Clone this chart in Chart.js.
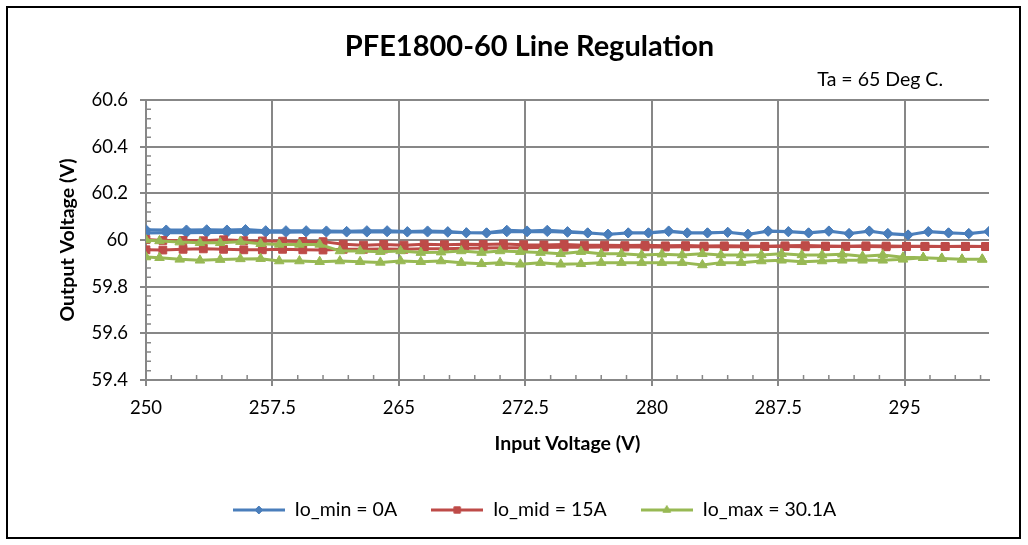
<!DOCTYPE html>
<html>
<head>
<meta charset="utf-8">
<title>PFE1800-60 Line Regulation</title>
<script src="https://cdn.jsdelivr.net/npm/chart.js@4.4.1/dist/chart.umd.min.js"></script>
<style>
  html, body { margin: 0; padding: 0; background: #fff; }
  #wrap { position: relative; width: 1028px; height: 545px; }
  #lineChart { position: absolute; left: 0; top: 0; }
  #frame { position: absolute; left: 6px; top: 6px; width: 1011px; height: 529px; border: 2px solid #000; pointer-events: none; }
</style>
</head>
<body>
<div id="wrap">
  <canvas id="lineChart" width="1028" height="545"></canvas>
  <div id="frame"></div>
</div>
<script>
const vinMin = [250.0, 251.2, 252.4, 253.6, 254.8, 255.9, 257.1, 258.3, 259.5, 260.7, 261.9, 263.1, 264.3, 265.5, 266.7,
  267.9, 269.0, 270.2, 271.4, 272.6, 273.8, 275.0, 276.2, 277.4, 278.6, 279.8, 281.0, 282.1, 283.3, 284.5,
  285.7, 286.9, 288.1, 289.3, 290.5, 291.7, 292.9, 294.0, 295.2, 296.4, 297.6, 298.8, 300.0];
const vinMid = [250.0, 251.0, 252.2, 253.4, 254.6, 255.8, 256.9, 258.1, 259.3, 260.5, 261.7, 262.9, 264.1, 265.3, 266.5,
  267.7, 268.9, 270.0, 271.2, 272.4, 273.6, 274.8, 276.0, 277.2, 278.4, 279.6, 280.8, 282.0, 283.1, 284.3,
  285.5, 286.7, 287.9, 289.1, 290.3, 291.5, 292.7, 293.9, 295.1, 296.2, 297.4, 298.6, 299.8];
const vinMax = [250.0, 250.8, 252.0, 253.2, 254.4, 255.6, 256.8, 257.9, 259.1, 260.3, 261.5, 262.7, 263.9, 265.1, 266.3,
  267.5, 268.7, 269.9, 271.0, 272.2, 273.4, 274.6, 275.8, 277.0, 278.2, 279.4, 280.6, 281.8, 283.0, 284.1,
  285.3, 286.5, 287.7, 288.9, 290.1, 291.3, 292.5, 293.7, 294.9, 296.1, 297.2, 298.4, 299.6];

// output voltage, sweep up and sweep back down (same index as vin arrays)
const ioMinUp = [60.044, 60.043, 60.043, 60.044, 60.043, 60.045, 60.040, 60.040, 60.040, 60.039, 60.037, 60.040, 60.040, 60.036, 60.039,
  60.036, 60.031, 60.031, 60.042, 60.039, 60.042, 60.036, 60.031, 60.024, 60.031, 60.031, 60.039, 60.031, 60.031, 60.033,
  60.024, 60.039, 60.036, 60.031, 60.039, 60.027, 60.039, 60.027, 60.021, 60.036, 60.031, 60.027, 60.036];
const ioMinDown = [60.030, 60.031, 60.031, 60.032, 60.032, 60.033, 60.033, 60.033, 60.034, 60.034, 60.034, 60.034, 60.035, 60.034, 60.034,
  60.033, 60.031, 60.030, 60.035, 60.035, 60.036, 60.033, 60.030, 60.025, 60.030, 60.030, 60.036, 60.030, 60.030, 60.033,
  60.025, 60.037, 60.035, 60.030, 60.037, 60.028, 60.037, 60.028, 60.022, 60.035, 60.030, 60.028, 60.036];

const ioMidUp = [60.002, 59.998, 59.998, 59.997, 60.001, 59.997, 59.996, 59.995, 59.994, 59.993, 59.982, 59.978, 59.981, 59.978, 59.982,
  59.980, 59.982, 59.981, 59.983, 59.980, 59.979, 59.981, 59.978, 59.978, 59.976, 59.977, 59.975, 59.976, 59.974, 59.975,
  59.974, 59.973, 59.975, 59.976, 59.974, 59.973, 59.975, 59.974, 59.973, 59.973, 59.972, 59.973, 59.972];
const ioMidDown = [59.958, 59.957, 59.960, 59.962, 59.960, 59.958, 59.958, 59.960, 59.958, 59.957, 59.960, 59.960, 59.961, 59.960, 59.962,
  59.963, 59.965, 59.966, 59.967, 59.967, 59.968, 59.969, 59.969, 59.970, 59.970, 59.971, 59.970, 59.971, 59.971, 59.972,
  59.971, 59.972, 59.972, 59.971, 59.972, 59.973, 59.972, 59.971, 59.972, 59.972, 59.972, 59.972, 59.972];

const ioMaxUp = [60.000, 59.996, 59.991, 59.988, 59.988, 59.993, 59.984, 59.981, 59.981, 59.981, 59.953, 59.953, 59.950, 59.953, 59.946,
  59.948, 59.953, 59.946, 59.953, 59.950, 59.946, 59.941, 59.950, 59.941, 59.941, 59.936, 59.939, 59.936, 59.941, 59.936,
  59.936, 59.936, 59.941, 59.936, 59.936, 59.939, 59.930, 59.936, 59.926, 59.924, 59.921, 59.917, 59.917];
const ioMaxDown = [59.927, 59.924, 59.917, 59.913, 59.916, 59.919, 59.920, 59.910, 59.910, 59.907, 59.910, 59.907, 59.904, 59.910, 59.907,
  59.910, 59.903, 59.898, 59.903, 59.896, 59.903, 59.896, 59.898, 59.903, 59.903, 59.903, 59.903, 59.903, 59.893, 59.903,
  59.903, 59.910, 59.913, 59.907, 59.910, 59.913, 59.913, 59.913, 59.917, 59.924, 59.921, 59.917, 59.917];

const seriesNames = ['Io_min = 0A', 'Io_mid = 15A', 'Io_max = 30.1A'];
const xTicks = [250, 257.5, 265, 272.5, 280, 287.5, 295];
const yTicks = [59.4, 59.6, 59.8, 60, 60.2, 60.4, 60.6];

const gridColor = '#878787';
const fontFam = 'Lato, "Open Sans", sans-serif';

// one loop per series: up the range, then back down
function sweep(vin, up, down) {
    var pts = [];
    for (var i = 0; i < vin.length; i++) pts.push({ x: vin[i], y: up[i] });
    for (var j = vin.length - 1; j >= 0; j--) pts.push({ x: vin[j], y: down[j] });
    return pts;
}

// legend icon = short line with the marker in the middle, like excel does
function legendIcon(ds) {
    const c = document.createElement('canvas');
    c.width = 52;
    c.height = 12;
    const g = c.getContext('2d');
    g.strokeStyle = ds.borderColor;
    g.lineWidth = 3;
    g.beginPath();
    g.moveTo(0, 6);
    g.lineTo(52, 6);
    g.stroke();
    g.fillStyle = ds.borderColor;
    g.lineWidth = 1;
    Chart.helpers.drawPoint(g, { pointStyle: ds.pointStyle, radius: ds.pointRadius - 1, borderWidth: 1, rotation: 0 }, 26, 6);
    return c;
}

const extras = {
    id: 'extras',
    afterLayout(chart) {
        // excel centres title and legend a bit to the right of the canvas middle
        chart.titleBlock.left += 35;
        chart.titleBlock.right += 35;
        chart.legend.left += 40;
        chart.legend.right += 40;
    },
    beforeDatasetsDraw(chart) {
        const { ctx, scales: { x, y } } = chart;
        ctx.save();
        ctx.strokeStyle = gridColor;
        ctx.lineWidth = 1.5;
        ctx.beginPath();
        for (var v = 251.5; v < 300; v += 1.5) {
            if (Math.abs((v - 250) / 7.5 - Math.round((v - 250) / 7.5)) < 0.01) continue;
            const px = x.getPixelForValue(v);
            ctx.moveTo(px, y.bottom);
            ctx.lineTo(px, y.bottom - 5);
        }
        for (var k = 1; k < 30; k++) {
            if (k % 5 === 0) continue;
            const py = y.getPixelForValue(59.4 + k * 0.04);
            ctx.moveTo(x.left, py);
            ctx.lineTo(x.left + 5, py);
        }
        ctx.stroke();
        ctx.restore();
    },
    afterDraw(chart) {
        const ctx = chart.ctx;
        ctx.save();
        ctx.fillStyle = '#000';
        ctx.font = '19.5px ' + fontFam;
        ctx.textAlign = 'right';
        ctx.textBaseline = 'middle';
        ctx.fillText('Ta = 65 Deg C.', 943, 80);
        ctx.restore();
    }
};

const ctx = document.getElementById('lineChart');

const datasets = [
    { label: seriesNames[0], data: sweep(vinMin, ioMinUp, ioMinDown), borderColor: '#4A7EBB', backgroundColor: '#4A7EBB',
      pointStyle: 'rectRot', pointRadius: 5, order: 3 },
    { label: seriesNames[1], data: sweep(vinMid, ioMidUp, ioMidDown), borderColor: '#BE4B48', backgroundColor: '#BE4B48',
      pointStyle: 'rect', pointRadius: 5.5, order: 2 },
    { label: seriesNames[2], data: sweep(vinMax, ioMaxUp, ioMaxDown), borderColor: '#98B954', backgroundColor: '#98B954',
      pointStyle: 'triangle', pointRadius: 5.5, order: 1 }
];
datasets.forEach(function (d) {
    d.borderWidth = 3;
    d.pointBorderWidth = 1;
    d.tension = 0;
    d.fill = false;
});

const lineChart = new Chart(ctx, {
    type: 'line',
    data: { datasets: datasets },
    plugins: [extras],
    options: {
        responsive: false,
        animation: false,
        layout: { padding: { left: 0, right: 39, top: 0, bottom: 15.25 } },
        scales: {
            x: {
                type: 'linear',
                min: 250,
                max: 300,
                afterBuildTicks: s => { s.ticks = xTicks.map(v => ({ value: v })); },
                afterFit: s => { s.height = 86.25; },
                grid: { color: gridColor, lineWidth: 2, tickLength: 6 },
                border: { color: gridColor, width: 2 },
                ticks: { color: '#000', font: { family: fontFam, size: 18.5 }, padding: 11, maxRotation: 0, autoSkip: false,
                         callback: v => String(v) },
                title: { display: true, text: 'Input Voltage (V)', color: '#000',
                         font: { family: fontFam, size: 19.5, weight: 'bold' }, padding: { top: 0, bottom: 10.8 } }
            },
            y: {
                min: 59.4,
                max: 60.6,
                afterBuildTicks: s => { s.ticks = yTicks.map(v => ({ value: v })); },
                afterFit: s => { s.width = 146; },
                grid: { color: gridColor, lineWidth: 2, tickLength: 6 },
                border: { color: gridColor, width: 2 },
                ticks: { color: '#000', font: { family: fontFam, size: 18.5 }, padding: 12,
                         callback: v => String(Math.round(v * 10) / 10) },
                title: { display: true, text: 'Output Voltage (V)', color: '#000',
                         font: { family: fontFam, size: 19.5, weight: 'bold' }, padding: { top: 56.3, bottom: 0 } }
            }
        },
        plugins: {
            title: {
                display: true,
                text: 'PFE1800-60 Line Regulation',
                color: '#000',
                font: { family: fontFam, size: 29, weight: 'bold' },
                padding: { top: 29.6, bottom: 35.6 }
            },
            legend: {
                position: 'bottom',
                labels: {
                    usePointStyle: true,
                    pointStyleWidth: 52,
                    padding: 34,
                    color: '#000',
                    font: { family: fontFam, size: 19.5 },
                    generateLabels: chart => chart.data.datasets.map((ds, i) => ({
                        text: ds.label,
                        fillStyle: ds.borderColor,
                        strokeStyle: ds.borderColor,
                        lineWidth: 0,
                        pointStyle: legendIcon(ds),
                        hidden: false,
                        datasetIndex: i,
                        fontColor: '#000'
                    }))
                }
            },
            tooltip: { enabled: false }
        }
    }
});
</script>
</body>
</html>
